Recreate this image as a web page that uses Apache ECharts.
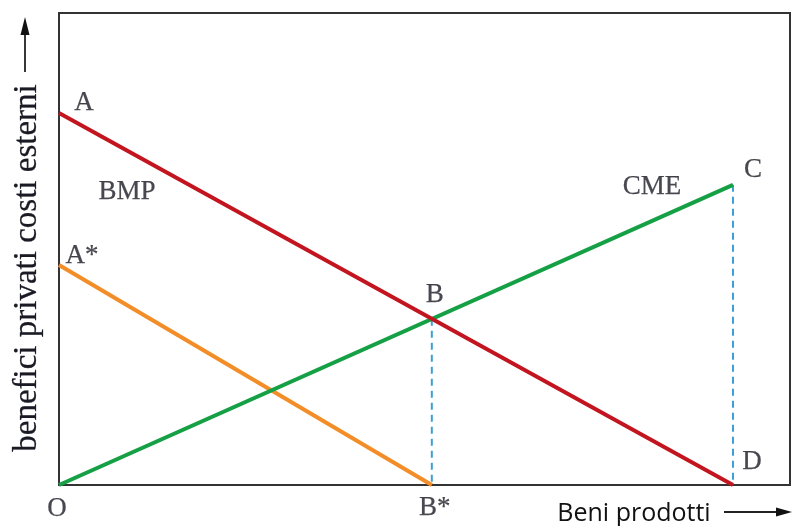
<!DOCTYPE html>
<html>
<head>
<meta charset="utf-8">
<script src="https://cdn.jsdelivr.net/npm/echarts@6/dist/echarts.min.js"></script>
<style>html,body{margin:0;padding:0;background:#fff;}#c{width:792px;height:526px;}</style>
</head>
<body>
<div id="c"></div>
<script>
// Data (arbitrary units: x 0..100, y 0..100)
const bmpX = [0, 92.2];       // A -> D
const bmpY = [78.8, 0];
const cmeX = [0, 92.2];       // O -> C
const cmeY = [0, 63.6];
const bmpStarX = [0, 51.0];   // A* -> B*
const bmpStarY = [46.6, 0];
const bX = 51.0, bY = 35.2;   // intersection B
const pointNames = ['O', 'A', 'A*', 'B', 'B*', 'C', 'D'];
const pointX = [0, 0, 0, bX, bX, 92.2, 92.2];
const pointY = [0, 78.8, 46.6, bY, 0, 63.6, 0];
const curveNames = ['BMP', 'CME'];
const yAxisTitle = 'benefici privati costi esterni';
const xAxisTitle = 'Beni prodotti';

const labelOffsets = {
  'O': [-2, 24], 'A': [25, -10], 'A*': [23, -9], 'B': [3, -24],
  'B*': [3, 23], 'C': [20, -15], 'D': [19, -23]
};
const curveAnchor = { 'BMP': [bmpX[0], bmpY[0]], 'CME': [cmeX[1], cmeY[1]] };
const curveOffsets = { 'BMP': [68, 79], 'CME': [-81, 2] };

const serif = { fontFamily: 'Liberation Serif', fontSize: 27, color: '#1a1a24', textBorderColor: '#1a1a24', textBorderWidth: 0.25 };

const chart = echarts.init(document.getElementById('c'), null, { renderer: 'canvas' });

const pointData = pointNames.map((n, i) => ({
  value: [pointX[i], pointY[i]], name: n,
  label: { offset: labelOffsets[n] }
}));
const curveData = curveNames.map(n => ({
  value: curveAnchor[n], name: n,
  label: { offset: curveOffsets[n] }
}));

const lineStyle = (color, w) => ({ color: color, width: w });

chart.setOption({
  animation: false,
  grid: { left: 59, top: 13, right: 2, bottom: 41, show: true, borderColor: '#333', borderWidth: 2, backgroundColor: '#fff' },
  xAxis: { type: 'value', min: 0, max: 100, axisLine: { show: false }, axisTick: { show: false }, axisLabel: { show: false }, splitLine: { show: false } },
  yAxis: { type: 'value', min: 0, max: 100, axisLine: { show: false }, axisTick: { show: false }, axisLabel: { show: false }, splitLine: { show: false } },
  series: [
    { type: 'line', name: 'dash1', data: [[bX, bY], [bX, 0]], symbol: 'none', lineStyle: { color: '#3d9fd4', width: 2, type: [7, 5] }, z: 1 },
    { type: 'line', name: 'dash2', data: [[cmeX[1], cmeY[1]], [cmeX[1], 0]], symbol: 'none', lineStyle: { color: '#3d9fd4', width: 2, type: [7, 5] }, z: 1 },
    { type: 'line', name: 'BMP*', data: bmpStarX.map((x, i) => [x, bmpStarY[i]]), symbol: 'none', lineStyle: lineStyle('#f28d27', 4), z: 2 },
    { type: 'line', name: 'CME', data: cmeX.map((x, i) => [x, cmeY[i]]), symbol: 'none', lineStyle: lineStyle('#16a045', 4), z: 3 },
    { type: 'line', name: 'BMP', data: bmpX.map((x, i) => [x, bmpY[i]]), symbol: 'none', lineStyle: lineStyle('#c2151f', 4), z: 4 },
    { type: 'scatter', name: 'points', data: pointData, symbolSize: 0, silent: true,
      label: Object.assign({ show: true, position: 'inside', formatter: '{b}' }, serif), z: 5 },
    { type: 'scatter', name: 'curves', data: curveData, symbolSize: 0, silent: true,
      label: Object.assign({ show: true, position: 'inside', formatter: '{b}' }, serif), z: 5 }
  ],
  graphic: [
    { type: 'text', x: 27, y: 268, rotation: Math.PI / 2,
      style: { text: yAxisTitle, font: '33px "Liberation Serif"', fill: '#1a1a24', stroke: '#1a1a24', lineWidth: 0.25, textAlign: 'center', textVerticalAlign: 'middle' } },
    { type: 'line', shape: { x1: 25, y1: 72, x2: 25, y2: 30 }, style: { stroke: '#222', lineWidth: 1.8 } },
    { type: 'polygon', shape: { points: [[25, 17], [20.5, 35], [29.5, 35]] }, style: { fill: '#111' } },
    { type: 'text', x: 634, y: 514,
      style: { text: xAxisTitle, font: '25px "Open Sans"', fill: '#111', textAlign: 'center', textVerticalAlign: 'middle' } },
    { type: 'line', shape: { x1: 724, y1: 512, x2: 780, y2: 512 }, style: { stroke: '#222', lineWidth: 1.8 } },
    { type: 'polygon', shape: { points: [[792, 512], [776, 507.5], [776, 516.5]] }, style: { fill: '#111' } }
  ]
});
</script>
</body>
</html>
